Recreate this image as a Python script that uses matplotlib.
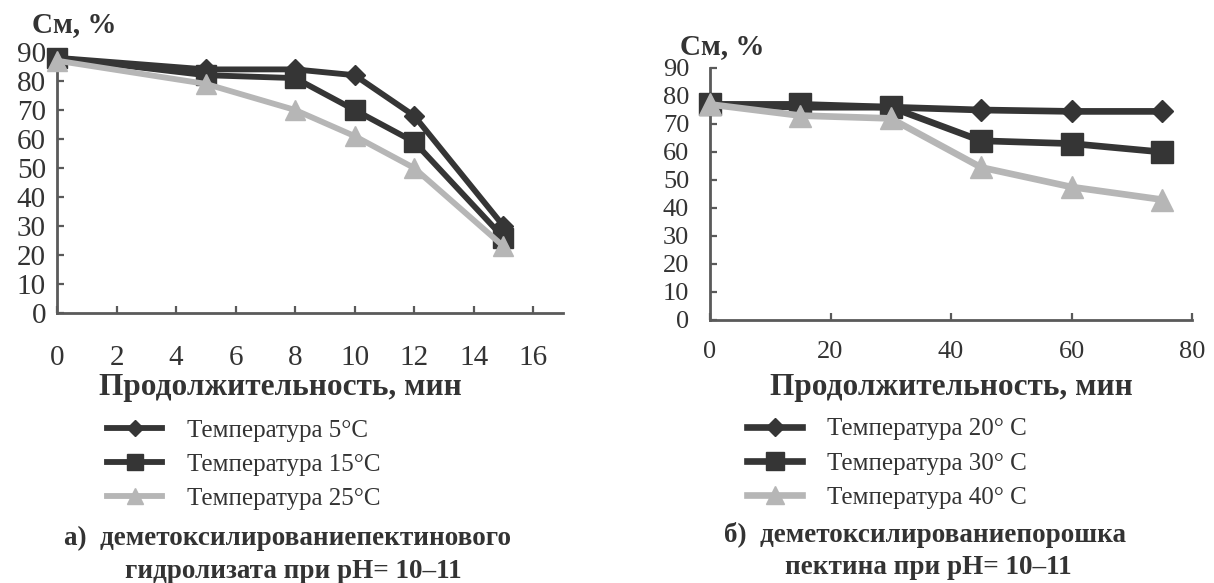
import matplotlib
matplotlib.use("Agg")
import matplotlib.pyplot as plt

# ---- data -------------------------------------------------------------
time_a = [0, 5, 8, 10, 12, 15]
cm_a_5 = [88, 84, 84, 82, 68, 30]
cm_a_15 = [88, 82, 81, 70, 59, 26]
cm_a_25 = [87, 79, 70, 61, 50, 23]
labels_a = ["Температура 5°C", "Температура 15°C", "Температура 25°C"]

time_b = [0, 15, 30, 45, 60, 75]
cm_b_20 = [77, 76, 76, 75, 74.5, 74.5]
cm_b_30 = [77, 77, 76, 64, 63, 60]
cm_b_40 = [77, 73, 72, 54.5, 47.5, 43]
labels_b = ["Температура 20° C", "Температура 30° C", "Температура 40° C"]

xticks_a = [0, 2, 4, 6, 8, 10, 12, 14, 16]
xticks_b = [0, 20, 40, 60, 80]
yticks = [0, 10, 20, 30, 40, 50, 60, 70, 80, 90]

ylabel = "См, %"
xlabel = "Продолжительность, мин"
caption_a = ["а)  деметоксилированиепектинового", "гидролизата при pH= 10–11"]
caption_b = ["б)  деметоксилированиепорошка", "пектина при pH= 10–11"]

# ---- style ------------------------------------------------------------
W, H = 1214, 583
plt.rcParams["font.family"] = ["Liberation Serif", "DejaVu Serif"]
TXT = "#333333"
DARK = "#353535"
LIGHT = "#b6b6b6"
AXC = "#5a5a5a"

fig = plt.figure(figsize=(W / 100, H / 100), dpi=100)
fig.patch.set_facecolor("white")


def fx(x):
    return x / W


def fy(y):
    return 1 - y / H


def make_axes(rect, xlim, xticks, tick_fs, xpad, ypad):
    ax = fig.add_axes(rect)
    ax.set_xlim(*xlim)
    ax.set_ylim(0, 90)
    ax.set_xticks(xticks)
    ax.set_yticks(yticks)
    for s in ("top", "right"):
        ax.spines[s].set_visible(False)
    for s in ("left", "bottom"):
        ax.spines[s].set_color(AXC)
        ax.spines[s].set_linewidth(2.0)
    ax.tick_params(direction="in", length=5, width=1.6, color=AXC,
                   labelsize=tick_fs, labelcolor=TXT)
    ax.tick_params(axis="x", pad=xpad)
    ax.tick_params(axis="y", pad=ypad)
    ax.set_facecolor("none")
    return ax


# left panel
ax_a = make_axes([fx(57), fy(313), (563 - 57) / W, (313 - 52) / H],
                 (0, 17), xticks_a, 21, 23, 8)
h1, = ax_a.plot(time_a, cm_a_5, color=DARK, lw=4.2, marker="D", ms=10.5,
                mec=DARK, mfc=DARK, zorder=4)
h2, = ax_a.plot(time_a, cm_a_15, color=DARK, lw=4.2, marker="s", ms=14.5,
                mec=DARK, mfc=DARK, zorder=3)
h3, = ax_a.plot(time_a, cm_a_25, color=LIGHT, lw=4.2, marker="^", ms=14.5,
                mec=LIGHT, mfc=LIGHT, zorder=5)
for a in (h1, h2, h3):
    a.set_clip_on(False)

# right panel
ax_b = make_axes([fx(710), fy(320), (1192 - 710) / W, (320 - 68) / H],
                 (0, 80), xticks_b, 19, 15, 15)
g1, = ax_b.plot(time_b, cm_b_20, color=DARK, lw=4.8, marker="D", ms=11,
                mec=DARK, mfc=DARK, zorder=4)
g2, = ax_b.plot(time_b, cm_b_30, color=DARK, lw=4.8, marker="s", ms=16,
                mec=DARK, mfc=DARK, zorder=3)
g3, = ax_b.plot(time_b, cm_b_40, color=LIGHT, lw=4.8, marker="^", ms=16,
                mec=LIGHT, mfc=LIGHT, zorder=5)
for a in (g1, g2, g3):
    a.set_clip_on(False)

# axis titles
fig.text(fx(32), fy(25), ylabel, ha="left", va="center", fontsize=21,
         fontweight="bold", color=TXT)
fig.text(fx(680), fy(47), ylabel, ha="left", va="center", fontsize=21,
         fontweight="bold", color=TXT)
fig.text(fx(280), fy(388), xlabel, ha="center", va="center", fontsize=22.5,
         fontweight="bold", color=TXT)
fig.text(fx(951), fy(387), xlabel, ha="center", va="center", fontsize=22.5,
         fontweight="bold", color=TXT)

# legends
leg_kw = dict(loc="upper left", bbox_transform=fig.transFigure,
              frameon=False, fontsize=18, handlelength=2.2,
              handletextpad=1.0, labelspacing=0.47, borderpad=0,
              borderaxespad=0, markerscale=0.8, labelcolor=TXT)
ax_a.legend([h1, h2, h3], labels_a, bbox_to_anchor=(fx(107), fy(419)), **leg_kw)
ax_b.legend([g1, g2, g3], labels_b, bbox_to_anchor=(fx(747), fy(418)), **leg_kw)

# captions
fig.text(fx(288), fy(538), caption_a[0], ha="center", va="center",
         fontsize=19.5, fontweight="bold", color=TXT)
fig.text(fx(293), fy(572), caption_a[1], ha="center", va="center",
         fontsize=19.5, fontweight="bold", color=TXT)
fig.text(fx(925), fy(535), caption_b[0], ha="center", va="center",
         fontsize=19.5, fontweight="bold", color=TXT)
fig.text(fx(928), fy(567), caption_b[1], ha="center", va="center",
         fontsize=19.5, fontweight="bold", color=TXT)

fig.savefig("out.png", dpi=100, facecolor="white")
